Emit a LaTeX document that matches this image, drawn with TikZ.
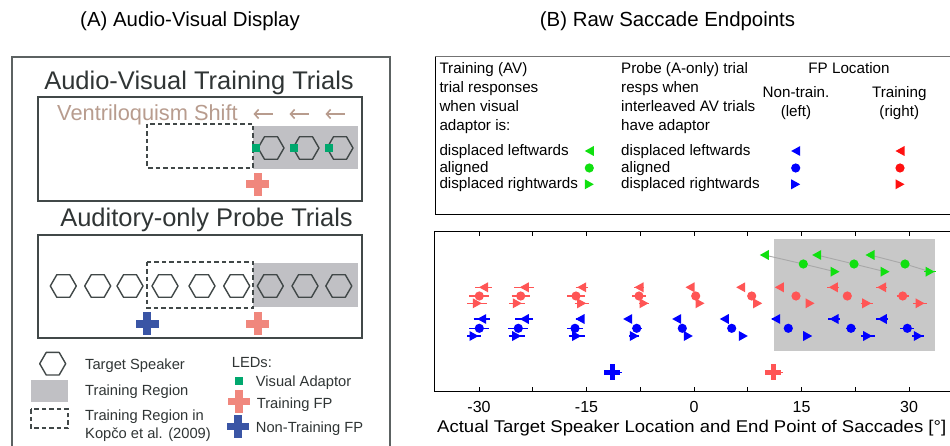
\documentclass[tikz,border=0pt]{standalone}
\usepackage{fontspec}
\setmainfont{Liberation Sans}
\usetikzlibrary{arrows.meta}

\definecolor{frame}{HTML}{414848}
\definecolor{outerframe}{HTML}{5C6262}
\definecolor{txtgray}{HTML}{303535}
\definecolor{shiftcol}{HTML}{B89C8E}
\definecolor{trgray}{HTML}{C0C0C4}
\definecolor{ledgreen}{HTML}{00A86E}
\definecolor{fppink}{HTML}{F0877D}
\definecolor{fpblue}{HTML}{3A55A5}
\definecolor{plotgray}{HTML}{C8C8C8}
\definecolor{mgreen}{HTML}{10E010}
\definecolor{mred}{HTML}{FF5555}
\definecolor{lred}{HTML}{FF1010}
\definecolor{mblue}{HTML}{0000FF}
\definecolor{linkgray}{HTML}{A8A8A8}

\newcommand\fsz[1]{\fontsize{#1}{#1}\selectfont}

% loudspeaker hexagon centred at (#1,#2)
\newcommand\hexspk[2]{\draw[hexline] (#1-13,#2) -- (#1-6.5,#2-11.26) -- (#1+6.5,#2-11.26) -- (#1+13,#2) -- (#1+6.5,#2+11.26) -- (#1-6.5,#2+11.26) -- cycle;}
% fixation cross: colour, x, y, arm, bar thickness
\newcommand\fpcross[5]{\fill[#1] (#2-#4,#3-#5/2) rectangle (#2+#4,#3+#5/2);\fill[#1] (#2-#5/2,#3-#4) rectangle (#2+#5/2,#3+#4);}
% LED square
\newcommand\led[2]{\fill[ledgreen] (#1-4,#2-4) rectangle (#1+4,#2+4);}
% saccade markers: colour, x, y, half error bar
\newcommand\mtl[4]{\ifdim #4pt>0pt \draw[#1,line width=1.1pt] (#2-#4,#3)--(#2+#4,#3);\fi
  \fill[#1] (#2-4.5,#3) -- (#2+4.5,#3-5) -- (#2+4.5,#3+5) -- cycle;}
\newcommand\mtr[4]{\ifdim #4pt>0pt \draw[#1,line width=1.1pt] (#2-#4,#3)--(#2+#4,#3);\fi
  \fill[#1] (#2+4.5,#3) -- (#2-4.5,#3-5) -- (#2-4.5,#3+5) -- cycle;}
\newcommand\mci[4]{\ifdim #4pt>0pt \draw[#1,line width=1.1pt] (#2-#4,#3)--(#2+#4,#3);\fi
  \fill[#1] (#2,#3) circle[radius=4.6pt];}

\tikzset{
  hexline/.style={draw=frame, line width=1.4pt, line join=round},
  boxline/.style={draw=frame, line width=1.5pt},
  dashbox/.style={draw=frame, line width=2.1pt, dash pattern=on 4.5pt off 3pt},
  ltext/.style={font=\fsz{14.7}, text=txtgray, inner sep=0pt},
  rtext/.style={font=\fsz{15.2}, text=black, inner sep=0pt},
}

\begin{document}
\begin{tikzpicture}[x=1pt,y=-1pt]
\useasboundingbox (0,0) rectangle (950,446);
\fill[white] (0,0) rectangle (950,446);

% ---------- panel titles ----------
\node[font=\fsz{20.4}, anchor=base, inner sep=0pt] (titleA) at (190,27) {(A) Audio-Visual Display};
\node[font=\fsz{20.4}, anchor=base, inner sep=0pt] (titleB) at (667.5,27) {(B) Raw Saccade Endpoints};

% ---------- (A) display ----------
\draw[outerframe, line width=1.2pt] (12,446) -- (12,57) -- (390,57) -- (390,446);

\node[font=\fsz{25.5}, text=txtgray, anchor=base, inner sep=0pt] (avtitle) at (199,90) {Audio-Visual Training Trials};
\draw[boxline] (38,97) rectangle (362,201);
\node[font=\fsz{21.8}, text=shiftcol, anchor=base west, inner sep=0pt] (shift) at (57,121) {Ventriloquism Shift};
\foreach \ax in {263,299,335}{
  \draw[shiftcol, line width=1.6pt, -{Straight Barb[length=4pt,width=9pt]}] (\ax+9.5,114) -- (\ax-9.5,114);
}
\fill[trgray] (253,126) rectangle (358,169);
\draw[dashbox] (147,124) rectangle (253,168);
\hexspk{271}{148}\hexspk{306}{148}\hexspk{340}{148}
\led{256}{148}\led{293.5}{148}\led{329}{148}
\fpcross{fppink}{257.7}{184.5}{11.5}{8}

\node[font=\fsz{25.5}, text=txtgray, anchor=base, inner sep=0pt] (aotitle) at (206.5,227) {Auditory-only Probe Trials};
\draw[boxline] (38,235) rectangle (362,338);
\fill[trgray] (253,263) rectangle (358,307);
\draw[dashbox] (147,262) rectangle (253,308);
\foreach \hx in {63.3,97.7,130,165,202,236.7,270.3,305,338.8}{
  \hexspk{\hx}{286}
}
\fpcross{fpblue}{147.2}{323.8}{11.5}{8}
\fpcross{fppink}{257.7}{323.8}{11.5}{8}

% legend of (A)
\hexspk{52.7}{363.7}
\node[ltext, anchor=base west] (lgspk) at (85,369) {Target Speaker};
\fill[trgray] (30.7,380) rectangle (68.3,401.7);
\node[ltext, anchor=base west] (lgreg) at (85,395) {Training Region};
\draw[dashbox, line width=1.8pt] (30.7,409.3) rectangle (68.3,428.3);
\node[ltext, anchor=base west] (lgold1) at (85,420) {Training Region in};
\node[ltext, anchor=base west] (lgold2) at (85,438) {Kopčo et al. (2009)};
\node[ltext, anchor=base west] (lgled) at (231.7,367) {LEDs:};
\led{238.8}{380.8}
\node[ltext, anchor=base west] (lgva) at (255.7,386) {Visual Adaptor};
\fpcross{fppink}{238.8}{401.3}{11.3}{7.5}
\node[ltext, anchor=base west] (lgtfp) at (256.7,408.5) {Training FP};
\fpcross{fpblue}{238}{426.7}{11.3}{7.5}
\node[ltext, anchor=base west] (lgnfp) at (255.7,432) {Non-Training FP};

% ---------- (B) legend box ----------
\draw[black!55, line width=1pt] (435,57) -- (950,57);
\draw[black, line width=1pt] (435,57) -- (435,214.5) -- (950,214.5);
\foreach \s/\yy [count=\i] in {Training (AV)/74,trial responses/93,when visual/112,adaptor is:/131}{
  \node[rtext, anchor=base west] (avhead\i) at (439.3,\yy) {\s};
}
\foreach \s/\yy [count=\i] in {Probe (A-only) trial/74,resps when/93,interleaved AV trials/112,have adaptor/131}{
  \node[rtext, anchor=base west] (aohead\i) at (621,\yy) {\s};
}
\foreach \s/\yy [count=\i] in {displaced leftwards/156,aligned/172.5,displaced rightwards/189}{
  \node[rtext, anchor=base west] (avitem\i) at (439.3,\yy) {\s};
  \node[rtext, anchor=base west] (aoitem\i) at (621,\yy) {\s};
}
\node[rtext, anchor=base] (fploc) at (849,74) {FP Location};
\node[rtext, anchor=base] (fpnt1) at (796,98) {Non-train.};
\node[rtext, anchor=base] (fpnt2) at (796,117) {(left)};
\node[rtext, anchor=base] (fptr1) at (899.3,98) {Training};
\node[rtext, anchor=base] (fptr2) at (899.3,117) {(right)};
\mtl{mgreen}{589.3}{151}{0}\mci{mgreen}{589.3}{168}{0}\mtr{mgreen}{589.3}{184.3}{0}
\mtl{mblue}{795.7}{151}{0}\mci{mblue}{795.7}{168}{0}\mtr{mblue}{795.7}{184.3}{0}
\mtl{lred}{900}{151}{0}\mci{lred}{900}{168}{0}\mtr{lred}{900}{184.3}{0}

% ---------- (B) saccade plot ----------
\fill[plotgray] (774,239) rectangle (935,351);
\draw[black, line width=1pt] (950,232) -- (434,232) -- (434,391) -- (950,391);
\foreach \t in {-30,-22.5,...,30}{
  \draw[black, line width=0.9pt] (694+7.167*\t,232) -- ++(0,4);
  \draw[black, line width=0.9pt] (694+7.167*\t,391) -- ++(0,-4);
}
\foreach \t [count=\i] in {-30,-15,0,15,30}{
  \node[font=\fsz{16}, anchor=base, inner sep=0pt] (tick\i) at (694+7.167*\t,412) {\t};
}
\node[font=\fsz{17}, anchor=base, inner sep=0pt] (xlabel) at (691.7,432)
  {\scalebox{1.09}[1]{Actual Target Speaker Location and End Point of Saccades [°]}};

% audio-visual training responses with their links
\foreach \a/\b/\c in {764.3/803.3/835,816.7/854/885,870/905/930}{
  \draw[linkgray, line width=0.9pt] (\a,255) -- (\b,264) -- (\c,271.7);
}
\mtl{mgreen}{764.3}{255}{0}\mtl{mgreen}{816.7}{255}{0}\mtl{mgreen}{870}{255}{0}
\mci{mgreen}{803.3}{264}{0}\mci{mgreen}{854}{264}{0}\mci{mgreen}{905}{264}{0}
\mtr{mgreen}{835}{271.7}{0}\mtr{mgreen}{885}{271.7}{0}\mtr{mgreen}{930}{271.7}{6}

% probe responses, training fixation
\foreach \x/\e in {483.5/8.5,524.3/10,581.7/6,639/5,690/0,740.7/0,779.3/0,833.3/6,881.7/5.5}{
  \mtl{mred}{\x}{287.3}{\e}
}
\foreach \x/\e in {479.3/10,520.7/9,576/9,639/7,695.7/0,751.7/0,796/0,847.3/0,902.7/6}{
  \mci{mred}{\x}{296}{\e}
}
\foreach \x/\e in {477.3/10,517.3/8,581.7/7,644/5,700/0,757.7/0,810/0,866.7/6,920/7}{
  \mtr{mred}{\x}{303.3}{\e}
}

% probe responses, non-training fixation
\foreach \x/\e in {481.7/8,524.3/9,580/4,627.7/0,676.7/0,724.3/0,775.7/4,834/6,882.3/6}{
  \mtl{mblue}{\x}{319}{\e}
}
\foreach \x/\e in {479.3/10,518.3/10,575/8,636.7/5,682.3/0,731.7/0,788.3/0,851/5,907.3/7}{
  \mci{mblue}{\x}{328.3}{\e}
}
\foreach \x/\e in {474/7,516.7/8,576.7/8,634.3/5,688.3/0,743.3/0,807.7/0,867.7/7,918.3/6}{
  \mtr{mblue}{\x}{336}{\e}
}

% fixation points
\draw[mblue, line width=1pt] (612,372) -- (622,372);
\fpcross{mblue}{612}{372}{8}{5}
\draw[mred, line width=1pt] (773,372) -- (783,372);
\fpcross{mred}{773}{372}{8}{5}
\end{tikzpicture}
\end{document}
